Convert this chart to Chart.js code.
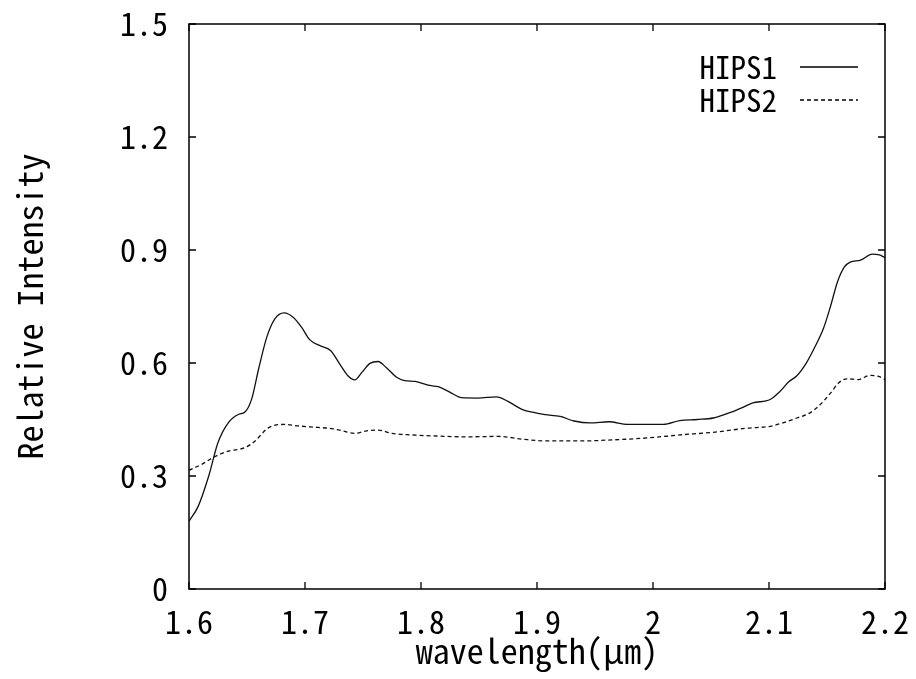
<!DOCTYPE html>
<html>
<head>
<meta charset="utf-8">
<script src="https://cdn.jsdelivr.net/npm/chart.js@4/dist/chart.umd.min.js"></script>
<style>
  body { margin: 0; background: #fff; }
  #grafico { display: block; }
</style>
</head>
<body>
<canvas id="grafico" width="916" height="679"></canvas>
<script>
// Datos (longitud de onda en µm, intensidad relativa)
const hips1X = [1.600, 1.608, 1.617, 1.625, 1.634, 1.643, 1.648, 1.654, 1.660, 1.667, 1.674, 1.682, 1.690, 1.697, 1.704, 1.713, 1.722, 1.730, 1.737, 1.743, 1.749, 1.756, 1.763, 1.770, 1.779, 1.786, 1.795, 1.806, 1.815, 1.824, 1.835, 1.849, 1.865, 1.875, 1.887, 1.898, 1.907, 1.920, 1.932, 1.946, 1.962, 1.978, 1.995, 2.009, 2.023, 2.038, 2.052, 2.066, 2.078, 2.086, 2.101, 2.109, 2.117, 2.124, 2.132, 2.139, 2.147, 2.153, 2.159, 2.165, 2.170, 2.179, 2.189, 2.195, 2.200];
const hips1Y = [0.180, 0.220, 0.300, 0.389, 0.442, 0.464, 0.469, 0.504, 0.584, 0.668, 0.717, 0.733, 0.721, 0.695, 0.662, 0.646, 0.633, 0.597, 0.566, 0.555, 0.575, 0.599, 0.604, 0.588, 0.562, 0.553, 0.551, 0.541, 0.537, 0.524, 0.508, 0.507, 0.510, 0.498, 0.477, 0.468, 0.463, 0.458, 0.446, 0.441, 0.444, 0.437, 0.437, 0.437, 0.447, 0.450, 0.454, 0.468, 0.483, 0.494, 0.503, 0.523, 0.550, 0.566, 0.599, 0.639, 0.692, 0.750, 0.815, 0.855, 0.868, 0.873, 0.889, 0.887, 0.880];

const hips2X = [1.600, 1.611, 1.622, 1.634, 1.648, 1.657, 1.668, 1.683, 1.694, 1.711, 1.723, 1.732, 1.743, 1.753, 1.763, 1.775, 1.792, 1.815, 1.838, 1.867, 1.887, 1.907, 1.937, 1.966, 1.995, 2.023, 2.052, 2.081, 2.101, 2.112, 2.124, 2.135, 2.144, 2.153, 2.160, 2.167, 2.177, 2.187, 2.194, 2.200];
const hips2Y = [0.315, 0.331, 0.351, 0.366, 0.375, 0.393, 0.427, 0.437, 0.433, 0.429, 0.426, 0.420, 0.413, 0.420, 0.422, 0.413, 0.409, 0.406, 0.404, 0.405, 0.398, 0.393, 0.393, 0.396, 0.401, 0.409, 0.416, 0.427, 0.432, 0.441, 0.454, 0.467, 0.489, 0.520, 0.547, 0.558, 0.556, 0.567, 0.565, 0.556];

const etiquetas = ['HIPS1', 'HIPS2'];
const tituloX = 'wavelength(μm)';
const tituloY = 'Relative Intensity';

const fuente = '"Noto Sans Mono CJK JP", "Noto Sans CJK JP", "DejaVu Sans Mono", sans-serif';

function puntos(xs, ys) {
  return xs.map((x, i) => ({ x: x, y: ys[i] }));
}

// Marco completo + marcas hacia dentro en los cuatro lados, y la leyenda dentro del gráfico
const marcoPlugin = {
  id: 'marco',
  afterDatasetsDraw(chart) {
    const { ctx, chartArea: a, scales } = chart;
    const largo = 7;
    ctx.save();
    ctx.strokeStyle = '#000';
    ctx.lineWidth = 1.5;
    ctx.strokeRect(a.left, a.top, a.right - a.left, a.bottom - a.top);
    ctx.lineWidth = 1.3;
    ctx.beginPath();
    scales.x.ticks.forEach(t => {
      const px = scales.x.getPixelForValue(t.value);
      ctx.moveTo(px, a.bottom); ctx.lineTo(px, a.bottom - largo);
      ctx.moveTo(px, a.top); ctx.lineTo(px, a.top + largo);
    });
    scales.y.ticks.forEach(t => {
      const py = scales.y.getPixelForValue(t.value);
      ctx.moveTo(a.left, py); ctx.lineTo(a.left + largo, py);
      ctx.moveTo(a.right, py); ctx.lineTo(a.right - largo, py);
    });
    ctx.stroke();

    // leyenda
    ctx.font = '31px ' + fuente;
    ctx.fillStyle = '#000';
    ctx.textAlign = 'right';
    ctx.textBaseline = 'middle';
    const filas = [67, 100];
    chart.data.datasets.forEach((ds, i) => {
      const y = filas[i];
      ctx.fillText(ds.label, 777, y);
      ctx.beginPath();
      ctx.setLineDash(ds.borderDash || []);
      ctx.lineWidth = ds.borderWidth;
      ctx.moveTo(800, y);
      ctx.lineTo(858, y);
      ctx.stroke();
    });
    ctx.restore();
  }
};

const ctx = document.getElementById('grafico').getContext('2d');
const grafico = new Chart(ctx, {
  type: 'line',
  data: {
    datasets: [
      {
        label: etiquetas[0],
        data: puntos(hips1X, hips1Y),
        borderColor: '#111',
        borderWidth: 1.3,
        pointRadius: 0,
        fill: false,
        cubicInterpolationMode: 'monotone'
      },
      {
        label: etiquetas[1],
        data: puntos(hips2X, hips2Y),
        borderColor: '#111',
        borderWidth: 1.3,
        borderDash: [4, 3],
        pointRadius: 0,
        fill: false,
        cubicInterpolationMode: 'monotone'
      }
    ]
  },
  options: {
    responsive: false,
    devicePixelRatio: 1,
    animation: false,
    layout: { padding: { left: 0, top: 24, right: 31, bottom: 0 } },
    plugins: {
      legend: { display: false },
      tooltip: { enabled: false }
    },
    scales: {
      x: {
        type: 'linear',
        min: 1.6,
        max: 2.2,
        afterFit: s => { s.height = 90; s.paddingLeft = 0; s.paddingRight = 0; },
        grid: { display: false, drawTicks: false },
        border: { display: false },
        ticks: {
          stepSize: 0.1,
          padding: 14,
          color: '#000',
          font: { family: fuente, size: 32 },
          callback: v => String(+v.toFixed(1))
        },
        title: {
          display: true,
          text: tituloX,
          color: '#000',
          font: { family: fuente, size: 34 },
          padding: { top: 0, bottom: 8 }
        }
      },
      y: {
        min: 0,
        max: 1.5,
        afterFit: s => { s.width = 189; s.paddingTop = 0; s.paddingBottom = 0; },
        grid: { display: false, drawTicks: false },
        border: { display: false },
        ticks: {
          stepSize: 0.3,
          padding: 21,
          color: '#000',
          font: { family: fuente, size: 32 },
          callback: v => String(+v.toFixed(1))
        },
        title: {
          display: true,
          text: tituloY,
          color: '#000',
          font: { family: fuente, size: 34 },
          padding: { top: 10, bottom: 0 }
        }
      }
    }
  },
  plugins: [marcoPlugin]
});
</script>
</body>
</html>
